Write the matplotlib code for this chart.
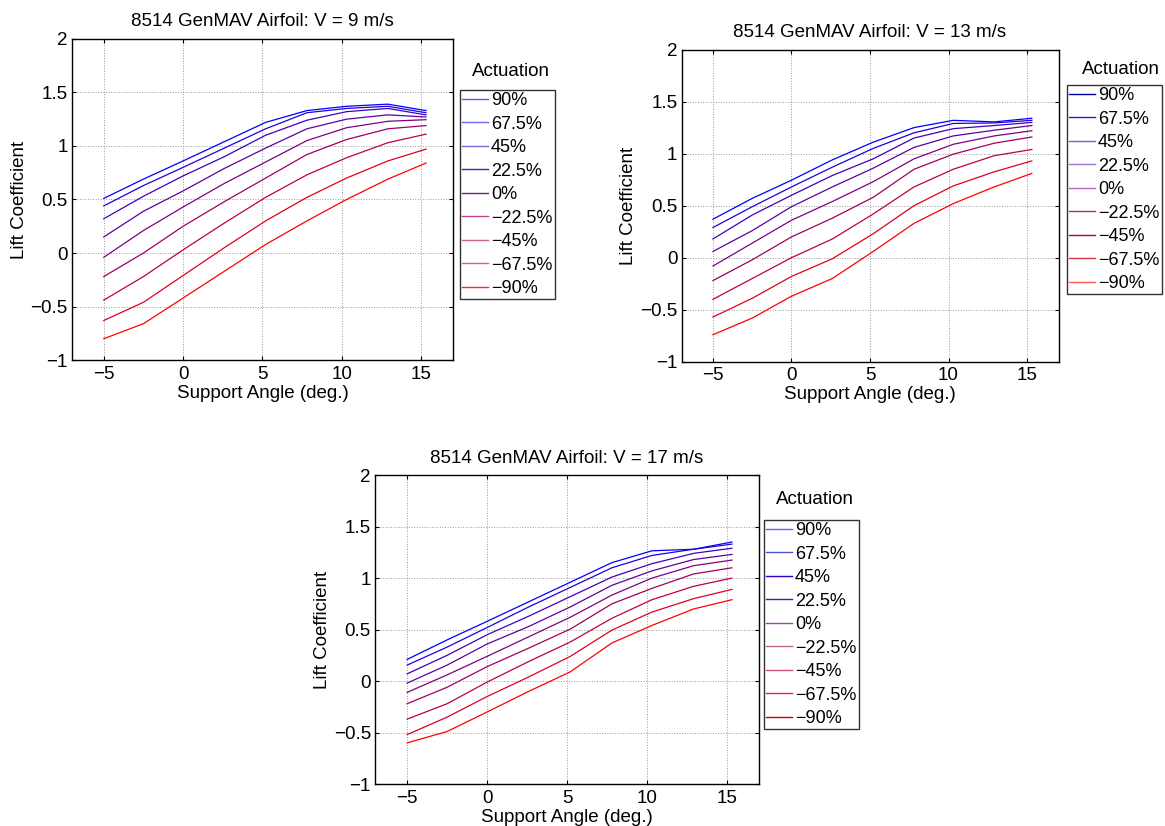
import numpy as np
import matplotlib.pyplot as plt
from matplotlib.lines import Line2D

plt.rcParams['font.family'] = ['Liberation Sans', 'DejaVu Sans']

actuation = ['90%', '67.5%', '45%', '22.5%', '0%', '\u221222.5%', '\u221245%', '\u221267.5%', '\u221290%']

# support angles (deg.) at which lift was measured
angle = [-5.0, -2.5, 0.0, 2.6, 5.2, 7.8, 10.3, 12.9, 15.3]

# lift coefficient, one row per actuation level (90% ... -90%)
cl_v9 = [
    [0.51, 0.69, 0.86, 1.04, 1.22, 1.33, 1.37, 1.39, 1.33],
    [0.44, 0.63, 0.80, 0.98, 1.16, 1.31, 1.35, 1.37, 1.31],
    [0.32, 0.53, 0.72, 0.90, 1.10, 1.24, 1.32, 1.35, 1.29],
    [0.15, 0.39, 0.58, 0.79, 0.98, 1.16, 1.25, 1.29, 1.27],
    [-0.04, 0.21, 0.43, 0.65, 0.85, 1.05, 1.17, 1.23, 1.245],
    [-0.22, 0.00, 0.25, 0.48, 0.70, 0.92, 1.06, 1.16, 1.19],
    [-0.44, -0.22, 0.03, 0.28, 0.52, 0.73, 0.89, 1.03, 1.11],
    [-0.63, -0.46, -0.21, 0.05, 0.30, 0.52, 0.70, 0.86, 0.97],
    [-0.80, -0.66, -0.42, -0.17, 0.08, 0.30, 0.50, 0.69, 0.84],
]
cl_v13 = [
    [0.37, 0.57, 0.745, 0.94, 1.11, 1.25, 1.32, 1.305, 1.34],
    [0.29, 0.49, 0.68, 0.87, 1.05, 1.20, 1.29, 1.295, 1.32],
    [0.18, 0.41, 0.60, 0.79, 0.95, 1.15, 1.24, 1.27, 1.30],
    [0.06, 0.26, 0.49, 0.68, 0.86, 1.06, 1.17, 1.225, 1.27],
    [-0.08, 0.14, 0.36, 0.54, 0.73, 0.95, 1.09, 1.17, 1.22],
    [-0.22, -0.02, 0.20, 0.38, 0.58, 0.85, 0.995, 1.10, 1.16],
    [-0.40, -0.20, 0.00, 0.18, 0.42, 0.68, 0.85, 0.98, 1.04],
    [-0.57, -0.39, -0.18, -0.01, 0.23, 0.50, 0.69, 0.825, 0.93],
    [-0.74, -0.58, -0.37, -0.20, 0.06, 0.33, 0.52, 0.68, 0.81],
]
cl_v17 = [
    [0.21, 0.40, 0.58, 0.77, 0.96, 1.15, 1.265, 1.28, 1.35],
    [0.155, 0.33, 0.52, 0.72, 0.91, 1.10, 1.22, 1.28, 1.33],
    [0.07, 0.25, 0.45, 0.63, 0.82, 1.01, 1.14, 1.24, 1.29],
    [-0.02, 0.155, 0.36, 0.53, 0.72, 0.93, 1.07, 1.18, 1.23],
    [-0.11, 0.06, 0.24, 0.43, 0.62, 0.835, 1.00, 1.12, 1.175],
    [-0.22, -0.06, 0.14, 0.32, 0.505, 0.75, 0.90, 1.04, 1.10],
    [-0.37, -0.22, -0.01, 0.19, 0.38, 0.61, 0.79, 0.92, 1.00],
    [-0.52, -0.35, -0.15, 0.04, 0.24, 0.495, 0.67, 0.80, 0.89],
    [-0.60, -0.49, -0.30, -0.10, 0.09, 0.37, 0.54, 0.70, 0.79],
]

speeds = [9, 13, 17]

# colours of the lines in each legend box
legend_colors = [
    ['#5a5af2', '#6a6aec', '#8a6ad6', '#5a12b0', '#702082',
     '#c0448c', '#d26482', '#e06272', '#ff2a2a'],
    ['#0000a8', '#2222d4', '#7262d4', '#a474d4', '#b462c4',
     '#a43272', '#b20042', '#d43444', '#ff5656'],
    ['#6262f2', '#5252d2', '#3200c2', '#502082', '#a442b4',
     '#c26292', '#d25282', '#e22242', '#c40000'],
]

# axes rectangles and legend boxes in figure fractions
axes_rects = [
    [0.0618, 0.564, 0.327, 0.389],
    [0.585, 0.562, 0.3236, 0.378],
    [0.322, 0.0508, 0.3296, 0.374],
]
legend_boxes = [(460, 90), (1067, 85), (764, 520)]
title_pos = [(511, 72), (1121, 70), (815, 500)]

FS = 13.5
LFS = 13
W, H = 1165, 826
fig = plt.figure(figsize=(W / 100, H / 100), dpi=100)

n = len(actuation)
line_colors = [(i / (n - 1), 0.0, 1.0 - i / (n - 1)) for i in range(n)]

for k, (cl, v) in enumerate(zip([cl_v9, cl_v13, cl_v17], speeds)):
    ax = fig.add_axes(axes_rects[k])
    for i, row in enumerate(cl):
        ax.plot(angle, row, color=line_colors[i], lw=0.9)

    ax.set_xlim(-7, 17)
    ax.set_ylim(-1, 2)
    ax.set_xticks([-5, 0, 5, 10, 15])
    ax.set_xticklabels(['\u22125', '0', '5', '10', '15'])
    ax.set_yticks(np.arange(-1, 2.01, 0.5))
    ax.set_yticklabels(['\u22121', '\u22120.5', '0', '0.5', '1', '1.5', '2'])
    ax.tick_params(direction='in', top=True, right=True, length=3,
                   labelsize=FS)
    ax.tick_params(axis='x', pad=4)
    ax.tick_params(axis='y', pad=3)
    ax.grid(True, linestyle=':', color='#999999', linewidth=0.7)
    for s in ax.spines.values():
        s.set_linewidth(1.0)
    ax.set_title(f'8514 GenMAV Airfoil: V = {v} m/s', fontsize=FS, pad=9)
    ax.set_xlabel('Support Angle (deg.)', fontsize=FS, labelpad=1.5)
    ax.set_ylabel('Lift Coefficient', fontsize=FS, labelpad=2)

    handles = [Line2D([], [], color=c, lw=1.0) for c in legend_colors[k]]
    lx, ly = legend_boxes[k]
    leg = fig.legend(handles, actuation, loc='upper left',
                     bbox_to_anchor=(lx / W, 1 - ly / H), fontsize=LFS,
                     frameon=True, fancybox=False, edgecolor='black',
                     handlelength=1.45, handletextpad=0.15, labelspacing=0.36,
                     borderpad=0.12, borderaxespad=0)
    leg.get_frame().set_linewidth(1.0)
    tx, ty = title_pos[k]
    fig.text(tx / W, 1 - ty / H, 'Actuation', fontsize=FS,
             ha='center', va='center')

fig.savefig('out.png', dpi=100)
